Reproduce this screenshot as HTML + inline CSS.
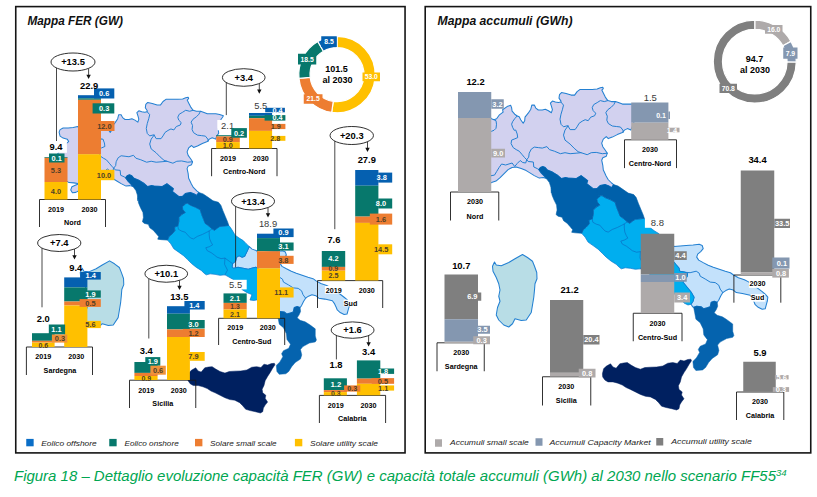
<!DOCTYPE html><html><head><meta charset="utf-8"><style>html,body{margin:0;padding:0;background:#fff}svg{display:block}text{font-family:"Liberation Sans", sans-serif}</style></head><body>
<svg width="817" height="497" viewBox="0 0 817 497">
<rect x="0.00" y="0.00" width="817.00" height="497.00" fill="#fff" />
<g transform="translate(-401.663,11.840) scale(0.97847)"><path d="M489.90,117.20 L491.50,118.70 L494.00,119.70 L496.60,118.70 L499.10,115.20 L503.10,112.20 L502.60,109.70 L507.10,106.60 L510.60,105.30 L511.60,107.60 L512.10,111.20 L514.70,114.20 L517.20,116.00 L519.20,116.70 L520.70,119.70 L523.20,123.20 L524.70,120.70 L525.00,117.20 L528.20,113.20 L530.80,109.20 L531.80,105.10 L534.30,105.10 L535.80,108.10 L538.30,110.00 L542.30,110.00 L545.30,109.20 L548.40,110.70 L551.40,112.70 L552.40,109.70 L551.40,106.10 L550.40,103.10 L552.40,101.10 L555.40,102.10 L558.40,102.60 L560.90,102.10 L561.00,101.10 L559.00,98.10 L559.50,94.60 L561.50,92.60 L566.10,93.60 L571.10,95.10 L574.60,95.10 L577.10,91.60 L580.10,89.40 L586.20,89.40 L592.20,89.40 L597.20,89.10 L600.30,87.80 L602.80,87.20 L603.30,88.60 L601.80,90.10 L603.30,93.10 L605.30,97.10 L607.80,100.60 L611.30,101.60 L615.40,101.60 L618.40,102.60 L622.40,104.10 L626.40,104.10 L631.00,104.10 L635.00,105.00 L638.80,106.20 L637.80,108.00 L636.40,109.80 L635.70,112.50 L634.60,116.00 L633.50,120.00 L634.00,124.00 L632.00,127.00 L630.90,130.10 L627.40,128.60 L624.40,130.10 L622.40,132.60 L617.30,134.60 L612.30,137.10 L608.30,138.60 L606.30,136.60 L603.30,139.10 L601.70,143.10 L602.80,146.70 L605.30,150.20 L607.30,153.20 L606.30,156.20 L602.80,157.70 L601.70,160.20 L602.80,165.30 L603.30,170.00 L604.30,172.10 L606.10,176.00 L608.10,179.50 L611.60,183.00 L613.60,184.60 L611.60,187.60 L609.10,186.10 L605.10,184.60 L600.00,185.60 L597.00,188.60 L597.00,188.60 L593.20,188.70 L586.70,183.60 L587.70,180.60 L581.10,175.60 L576.10,178.60 L568.00,178.10 L565.50,177.60 L561.40,178.60 L557.40,175.10 L552.40,172.10 L547.40,170.10 L545.30,167.50 L542.80,166.50 L540.30,167.50 L538.80,169.60 L541.30,173.10 L544.30,176.10 L546.40,178.60 L543.30,177.60 L539.30,178.10 L534.30,175.60 L530.30,173.10 L526.20,170.60 L521.20,168.60 L516.20,167.00 L512.10,167.50 L508.10,169.60 L504.10,173.60 L500.10,177.60 L496.00,181.10 L491.50,182.60 L488.00,184.50 L484.50,184.80 L482.80,182.00 L484.00,178.80 L488.00,177.00 L491.50,175.60 L491.50,175.60 L486.00,174.80 L481.00,174.50 L477.00,172.00 L473.00,169.00 L469.00,164.00 L467.00,158.00 L470.00,152.00 L469.00,146.00 L472.00,141.00 L476.00,137.00 L479.20,133.60 L480.70,132.60 L479.20,130.10 L475.00,129.00 L471.90,127.00 L470.90,122.90 L471.90,120.40 L475.00,118.70 L480.20,118.70 L485.30,118.20 L489.90,117.20Z" fill="#d2d1ef" stroke="#2380d2" stroke-width="1.05" stroke-linejoin="round"/>
<path d="M494.00,119.70 L496.00,120.70 L496.50,124.20 L496.00,128.30 L494.00,130.30 L491.50,131.30" fill="none" stroke="#2380d2" stroke-width="1.0" stroke-linejoin="round" stroke-linecap="round"/>
<path d="M517.20,116.00 L514.70,118.70 L512.60,121.70 L511.60,124.20 L512.60,127.30 L514.20,130.30 L515.70,130.00 L517.20,134.00 L517.70,137.60 L514.20,139.10 L511.60,140.10 L511.10,143.60 L513.20,147.60 L516.20,149.60 L519.20,151.20 L522.20,154.70 L524.70,157.70 L526.70,159.70" fill="none" stroke="#2380d2" stroke-width="1.0" stroke-linejoin="round" stroke-linecap="round"/>
<path d="M526.70,159.70 L528.70,157.20 L529.20,153.20 L531.30,149.10 L534.30,147.10 L538.30,147.60 L542.30,148.10 L546.90,146.60 L549.40,149.60 L554.40,151.20 L560.40,153.70 L565.00,152.70 L570.10,153.70 L576.10,153.20 L581.10,152.70 L587.20,154.70 L591.20,152.70 L596.20,152.40 L602.30,153.70 L607.30,153.20" fill="none" stroke="#2380d2" stroke-width="1.0" stroke-linejoin="round" stroke-linecap="round"/>
<path d="M491.50,175.60 L494.50,175.10 L496.60,171.60 L499.10,167.50 L501.60,164.00 L505.60,165.00 L512.10,163.00 L514.70,166.50 L517.20,163.50 L520.20,160.50 L522.70,162.50 L525.70,163.00 L526.70,159.70 L528.20,161.50 L533.30,162.00 L533.80,167.00 L537.30,168.60 L538.80,169.60" fill="none" stroke="#2380d2" stroke-width="1.0" stroke-linejoin="round" stroke-linecap="round"/>
<path d="M560.90,102.10 L563.50,105.10 L562.50,109.20 L561.00,114.20 L560.00,119.20 L561.00,124.30 L563.50,126.80 L567.10,125.80 L568.00,126.00" fill="none" stroke="#2380d2" stroke-width="1.0" stroke-linejoin="round" stroke-linecap="round"/>
<path d="M568.00,126.00 L570.10,129.60 L575.10,129.60 L577.10,126.80 L579.10,123.30 L582.20,121.20 L585.20,119.70 L588.20,120.70 L590.70,117.20 L594.70,115.70 L595.70,113.20 L593.20,110.70 L592.20,107.70 L593.70,104.60 L597.20,102.60 L600.30,100.60 L604.30,101.60 L607.80,100.60" fill="none" stroke="#2380d2" stroke-width="1.0" stroke-linejoin="round" stroke-linecap="round"/>
<path d="M568.00,126.00 L565.00,130.10 L563.50,135.10 L565.00,140.10 L570.10,144.10 L574.10,148.20 L578.10,151.70 L581.10,152.70" fill="none" stroke="#2380d2" stroke-width="1.0" stroke-linejoin="round" stroke-linecap="round"/>
<path d="M615.40,101.60 L613.80,104.60 L611.30,107.20 L607.80,109.70 L605.80,112.70 L607.30,116.20 L606.80,120.20 L608.30,123.50 L612.30,126.00 L616.30,126.50 L620.40,127.00 L622.90,130.10 L623.40,132.10" fill="none" stroke="#2380d2" stroke-width="1.0" stroke-linejoin="round" stroke-linecap="round"/>
<path d="M665.20,239.90 L668.20,242.50 L672.90,244.10 L674.00,246.50 L680.10,246.00 L686.10,245.50 L693.10,245.00 L699.20,244.20 L702.20,245.50 L703.20,248.60 L700.70,251.60 L697.70,254.10 L696.70,257.10 L698.70,260.10 L703.20,262.60 L708.20,265.20 L713.30,267.20 L719.30,269.20 L725.30,271.20 L730.40,272.70 L733.90,275.20 L738.40,277.70 L744.40,279.70 L748.10,281.60 L753.00,285.00 L758.20,288.60 L762.20,291.70 L765.20,294.20 L767.80,297.20 L767.30,301.20 L766.20,305.20 L765.20,308.80 L762.20,309.30 L758.20,307.30 L755.20,304.70 L754.20,302.20 L752.50,298.50 L750.20,295.20 L742.40,293.60 L736.30,292.60 L733.30,290.10 L729.30,289.10 L725.80,290.60 L722.80,292.60 L720.70,296.10 L718.70,300.20 L717.20,302.20 L714.20,301.20 L711.20,302.20 L710.20,306.70 L707.20,307.70 L703.60,308.70 L701.10,306.70 L696.60,306.20 L693.60,307.20 L692.60,306.70 L691.10,304.20 L693.10,301.20 L694.10,297.20 L691.10,292.10 L687.00,287.10 L683.10,282.30 L684.10,280.20 L687.10,276.70 L687.60,273.70 L685.10,272.20 L679.60,271.20 L679.10,268.20 L676.00,264.60 L674.00,262.10 L672.00,261.00 L669.30,261.60 L664.20,263.10 L659.10,262.10 L653.80,261.10 L649.20,262.10 L647.70,261.10 L648.20,257.40 L651.30,254.80 L652.30,250.80 L654.90,249.20 L658.00,250.80 L660.60,249.70 L663.10,244.60Z" fill="#c3e1fb" stroke="#2380d2" stroke-width="1.05" stroke-linejoin="round"/>
<path d="M679.60,271.20 L684.10,272.20 L690.10,272.70 L696.20,271.20 L699.20,273.20 L700.20,276.20 L705.20,279.00 L710.20,282.10 L715.20,282.60 L718.70,285.10 L720.20,289.10 L722.80,292.60" fill="none" stroke="#2380d2" stroke-width="1.0" stroke-linejoin="round" stroke-linecap="round"/>
<path d="M599.00,196.10 L602.00,195.60 L605.10,197.60 L610.10,199.60 L615.10,202.20 L616.60,207.20 L618.60,212.20 L620.20,216.20 L623.20,218.30 L627.20,221.80 L629.70,223.30 L632.20,221.30 L635.20,219.30 L640.30,218.80 L644.30,218.30 L645.70,220.00 L647.70,223.00 L650.80,228.20 L654.90,231.20 L659.10,233.80 L662.10,236.90 L665.20,239.90 L663.10,244.60 L660.60,249.70 L658.00,250.80 L654.90,249.20 L652.30,250.80 L651.30,254.80 L648.20,257.40 L647.70,261.10 L649.20,262.10 L653.80,261.10 L659.10,262.10 L664.20,263.10 L669.30,261.60 L672.00,261.00 L674.00,262.10 L676.00,264.60 L679.10,268.20 L679.60,271.20 L685.10,272.20 L687.60,273.70 L687.10,276.70 L684.10,280.20 L683.10,282.30 L687.00,287.10 L691.10,292.10 L694.10,297.20 L693.10,301.20 L691.10,304.20 L688.00,305.00 L684.00,303.00 L680.00,297.00 L675.00,294.00 L670.00,295.00 L666.00,294.50 L668.00,289.00 L663.00,287.00 L658.00,284.00 L654.00,278.00 L648.00,273.00 L640.40,268.80 L635.40,269.30 L630.30,268.30 L625.30,267.80 L621.30,268.80 L619.30,267.30 L616.20,264.30 L611.20,261.20 L606.20,257.20 L602.20,253.20 L598.10,249.20 L593.10,245.60 L588.10,242.10 L585.10,237.10 L581.70,233.30 L583.20,229.70 L586.20,227.20 L589.30,223.70 L588.80,220.20 L592.30,218.70 L593.30,214.10 L593.30,210.10 L596.30,207.10 L599.80,205.10 L597.30,202.10 L596.80,199.10 L599.80,196.50Z" fill="#00aeef" stroke="#0a78cf" stroke-width="0.7" stroke-linejoin="round"/>
<path d="M592.30,218.70 L592.80,222.20 L596.30,224.20 L599.80,225.20 L602.20,228.00 L605.20,231.10 L608.20,232.10 L612.20,229.50 L617.30,227.50 L621.30,225.50 L624.30,224.00 L627.20,221.80" fill="none" stroke="#0a6fc4" stroke-width="0.7" stroke-linejoin="round" stroke-linecap="round"/>
<path d="M624.30,224.00 L624.30,228.00 L624.80,232.10 L626.30,235.60 L627.80,238.10 L624.30,240.10 L620.80,241.10 L622.30,244.10 L626.30,246.10 L629.80,248.70 L632.30,250.70 L636.40,252.20 L640.40,251.70 L645.00,255.00 L648.20,257.40" fill="none" stroke="#0a6fc4" stroke-width="0.7" stroke-linejoin="round" stroke-linecap="round"/>
<path d="M640.40,251.70 L640.00,258.00 L643.00,264.00 L640.40,268.80" fill="none" stroke="#0a6fc4" stroke-width="0.7" stroke-linejoin="round" stroke-linecap="round"/>
<path d="M538.80,169.60 L540.30,167.50 L542.80,166.50 L545.30,167.50 L547.40,170.10 L552.40,172.10 L557.40,175.10 L561.40,178.60 L565.50,177.60 L568.00,178.10 L576.10,178.60 L581.10,175.60 L587.70,180.60 L586.70,183.60 L593.20,188.70 L597.00,188.60 L599.00,196.10 L599.80,196.50 L596.80,199.10 L597.30,202.10 L599.80,205.10 L596.30,207.10 L593.30,210.10 L593.30,214.10 L592.30,218.70 L588.80,220.20 L589.30,223.70 L586.20,227.20 L583.20,229.70 L581.70,233.30 L575.20,232.80 L571.70,232.30 L572.70,229.70 L570.20,226.70 L567.10,223.20 L563.60,220.70 L562.10,217.20 L558.10,216.20 L556.10,214.60 L557.10,210.10 L556.60,205.10 L554.10,200.10 L552.00,195.00 L551.50,190.00 L551.40,193.20 L550.90,187.20 L549.40,182.60 L546.40,178.60 L544.30,176.10 L541.30,173.10Z" fill="#0060aa" stroke="#0060aa" stroke-width="0.6" stroke-linejoin="round"/>
<path d="M597.00,188.60 L600.00,185.60 L605.10,184.60 L609.10,186.10 L611.60,187.60 L613.60,184.60 L618.10,186.10 L623.20,189.60 L628.20,193.10 L633.70,194.60 L636.20,197.60 L638.30,203.20 L640.80,209.20 L643.30,215.20 L644.30,218.30 L640.30,218.80 L635.20,219.30 L632.20,221.30 L629.70,223.30 L627.20,221.80 L623.20,218.30 L620.20,216.20 L618.60,212.20 L616.60,207.20 L615.10,202.20 L610.10,199.60 L605.10,197.60 L602.00,195.60 L599.00,196.10 L597.00,193.00Z" fill="#0060aa" stroke="#0060aa" stroke-width="0.6" stroke-linejoin="round"/>
<path d="M693.60,307.20 L696.60,306.20 L701.10,306.70 L703.60,308.70 L707.20,307.70 L710.20,306.70 L711.20,302.20 L714.20,301.20 L717.20,302.20 L717.70,306.20 L716.20,309.70 L714.20,312.70 L717.20,315.30 L722.30,316.80 L726.30,319.30 L727.90,320.40 L732.70,324.00 L732.70,331.30 L733.90,335.50 L732.70,337.30 L726.70,338.50 L720.10,342.10 L717.60,345.10 L718.90,350.60 L717.60,354.80 L712.20,358.40 L708.60,362.60 L705.60,367.50 L702.60,369.90 L695.90,370.50 L693.50,367.50 L692.90,361.40 L696.50,357.80 L699.60,352.40 L698.30,349.40 L700.20,346.30 L705.60,343.90 L707.40,339.70 L703.80,334.90 L703.20,328.90 L700.20,322.80 L695.90,319.20 L694.60,312.20Z" fill="#0563ae" stroke="#0563ae" stroke-width="0.5" stroke-linejoin="round"/>
<path d="M602.40,373.80 L603.60,368.80 L606.10,366.30 L610.50,363.80 L613.00,367.00 L616.10,368.20 L619.80,363.80 L623.60,363.00 L627.30,362.60 L631.00,365.10 L635.40,367.60 L640.40,369.20 L644.80,367.60 L650.40,367.20 L656.60,367.00 L662.80,366.00 L667.80,363.20 L672.80,362.60 L677.20,363.50 L680.30,360.10 L684.00,361.00 L687.80,359.50 L690.90,359.20 L691.50,360.70 L689.00,364.50 L686.50,368.80 L684.00,372.60 L681.50,376.90 L680.30,381.90 L678.40,385.70 L679.00,389.40 L682.20,391.90 L681.50,395.00 L684.00,398.80 L681.50,401.90 L679.70,405.00 L679.00,408.70 L676.60,410.00 L671.60,408.70 L666.00,407.50 L661.60,406.20 L658.50,402.50 L655.40,399.40 L650.40,396.90 L645.40,396.30 L640.40,394.40 L635.40,391.90 L630.40,389.40 L626.10,387.50 L622.30,385.00 L617.90,383.20 L613.00,381.90 L608.00,381.90 L604.90,380.10 L602.70,376.90Z" fill="#002060" stroke="#002060" stroke-width="0.5" stroke-linejoin="round"/>
<path d="M494.50,262.00 L496.25,265.00 L501.25,265.75 L508.75,262.50 L515.00,258.75 L522.50,254.50 L527.50,257.50 L532.50,261.25 L534.50,266.25 L536.75,272.50 L537.00,278.75 L535.00,283.75 L534.50,290.00 L533.75,297.50 L532.50,305.00 L531.25,312.50 L526.25,320.00 L521.25,320.50 L515.00,318.75 L512.50,321.30 L508.75,321.30 L503.75,321.30 L498.75,320.00 L496.25,315.00 L497.50,307.50 L500.00,301.25 L498.75,296.25 L500.00,290.00 L498.75,283.75 L496.25,277.50 L493.00,271.25 L492.50,266.25Z" fill="#b8dde6" stroke="#2380d2" stroke-width="1.05" stroke-linejoin="round"/></g>
<g><path d="M489.90,117.20 L491.50,118.70 L494.00,119.70 L496.60,118.70 L499.10,115.20 L503.10,112.20 L502.60,109.70 L507.10,106.60 L510.60,105.30 L511.60,107.60 L512.10,111.20 L514.70,114.20 L517.20,116.00 L519.20,116.70 L520.70,119.70 L523.20,123.20 L524.70,120.70 L525.00,117.20 L528.20,113.20 L530.80,109.20 L531.80,105.10 L534.30,105.10 L535.80,108.10 L538.30,110.00 L542.30,110.00 L545.30,109.20 L548.40,110.70 L551.40,112.70 L552.40,109.70 L551.40,106.10 L550.40,103.10 L552.40,101.10 L555.40,102.10 L558.40,102.60 L560.90,102.10 L561.00,101.10 L559.00,98.10 L559.50,94.60 L561.50,92.60 L566.10,93.60 L571.10,95.10 L574.60,95.10 L577.10,91.60 L580.10,89.40 L586.20,89.40 L592.20,89.40 L597.20,89.10 L600.30,87.80 L602.80,87.20 L603.30,88.60 L601.80,90.10 L603.30,93.10 L605.30,97.10 L607.80,100.60 L611.30,101.60 L615.40,101.60 L618.40,102.60 L622.40,104.10 L626.40,104.10 L631.00,104.10 L635.00,105.00 L638.80,106.20 L637.80,108.00 L636.40,109.80 L635.70,112.50 L634.60,116.00 L633.50,120.00 L634.00,124.00 L632.00,127.00 L630.90,130.10 L627.40,128.60 L624.40,130.10 L622.40,132.60 L617.30,134.60 L612.30,137.10 L608.30,138.60 L606.30,136.60 L603.30,139.10 L601.70,143.10 L602.80,146.70 L605.30,150.20 L607.30,153.20 L606.30,156.20 L602.80,157.70 L601.70,160.20 L602.80,165.30 L603.30,170.00 L604.30,172.10 L606.10,176.00 L608.10,179.50 L611.60,183.00 L613.60,184.60 L611.60,187.60 L609.10,186.10 L605.10,184.60 L600.00,185.60 L597.00,188.60 L597.00,188.60 L593.20,188.70 L586.70,183.60 L587.70,180.60 L581.10,175.60 L576.10,178.60 L568.00,178.10 L565.50,177.60 L561.40,178.60 L557.40,175.10 L552.40,172.10 L547.40,170.10 L545.30,167.50 L542.80,166.50 L540.30,167.50 L538.80,169.60 L541.30,173.10 L544.30,176.10 L546.40,178.60 L543.30,177.60 L539.30,178.10 L534.30,175.60 L530.30,173.10 L526.20,170.60 L521.20,168.60 L516.20,167.00 L512.10,167.50 L508.10,169.60 L504.10,173.60 L500.10,177.60 L496.00,181.10 L491.50,182.60 L488.00,184.50 L484.50,184.80 L482.80,182.00 L484.00,178.80 L488.00,177.00 L491.50,175.60 L491.50,175.60 L486.00,174.80 L481.00,174.50 L477.00,172.00 L473.00,169.00 L469.00,164.00 L467.00,158.00 L470.00,152.00 L469.00,146.00 L472.00,141.00 L476.00,137.00 L479.20,133.60 L480.70,132.60 L479.20,130.10 L475.00,129.00 L471.90,127.00 L470.90,122.90 L471.90,120.40 L475.00,118.70 L480.20,118.70 L485.30,118.20 L489.90,117.20Z" fill="#d2d1ef" stroke="#2380d2" stroke-width="1.05" stroke-linejoin="round"/>
<path d="M494.00,119.70 L496.00,120.70 L496.50,124.20 L496.00,128.30 L494.00,130.30 L491.50,131.30" fill="none" stroke="#2380d2" stroke-width="1.0" stroke-linejoin="round" stroke-linecap="round"/>
<path d="M517.20,116.00 L514.70,118.70 L512.60,121.70 L511.60,124.20 L512.60,127.30 L514.20,130.30 L515.70,130.00 L517.20,134.00 L517.70,137.60 L514.20,139.10 L511.60,140.10 L511.10,143.60 L513.20,147.60 L516.20,149.60 L519.20,151.20 L522.20,154.70 L524.70,157.70 L526.70,159.70" fill="none" stroke="#2380d2" stroke-width="1.0" stroke-linejoin="round" stroke-linecap="round"/>
<path d="M526.70,159.70 L528.70,157.20 L529.20,153.20 L531.30,149.10 L534.30,147.10 L538.30,147.60 L542.30,148.10 L546.90,146.60 L549.40,149.60 L554.40,151.20 L560.40,153.70 L565.00,152.70 L570.10,153.70 L576.10,153.20 L581.10,152.70 L587.20,154.70 L591.20,152.70 L596.20,152.40 L602.30,153.70 L607.30,153.20" fill="none" stroke="#2380d2" stroke-width="1.0" stroke-linejoin="round" stroke-linecap="round"/>
<path d="M491.50,175.60 L494.50,175.10 L496.60,171.60 L499.10,167.50 L501.60,164.00 L505.60,165.00 L512.10,163.00 L514.70,166.50 L517.20,163.50 L520.20,160.50 L522.70,162.50 L525.70,163.00 L526.70,159.70 L528.20,161.50 L533.30,162.00 L533.80,167.00 L537.30,168.60 L538.80,169.60" fill="none" stroke="#2380d2" stroke-width="1.0" stroke-linejoin="round" stroke-linecap="round"/>
<path d="M560.90,102.10 L563.50,105.10 L562.50,109.20 L561.00,114.20 L560.00,119.20 L561.00,124.30 L563.50,126.80 L567.10,125.80 L568.00,126.00" fill="none" stroke="#2380d2" stroke-width="1.0" stroke-linejoin="round" stroke-linecap="round"/>
<path d="M568.00,126.00 L570.10,129.60 L575.10,129.60 L577.10,126.80 L579.10,123.30 L582.20,121.20 L585.20,119.70 L588.20,120.70 L590.70,117.20 L594.70,115.70 L595.70,113.20 L593.20,110.70 L592.20,107.70 L593.70,104.60 L597.20,102.60 L600.30,100.60 L604.30,101.60 L607.80,100.60" fill="none" stroke="#2380d2" stroke-width="1.0" stroke-linejoin="round" stroke-linecap="round"/>
<path d="M568.00,126.00 L565.00,130.10 L563.50,135.10 L565.00,140.10 L570.10,144.10 L574.10,148.20 L578.10,151.70 L581.10,152.70" fill="none" stroke="#2380d2" stroke-width="1.0" stroke-linejoin="round" stroke-linecap="round"/>
<path d="M615.40,101.60 L613.80,104.60 L611.30,107.20 L607.80,109.70 L605.80,112.70 L607.30,116.20 L606.80,120.20 L608.30,123.50 L612.30,126.00 L616.30,126.50 L620.40,127.00 L622.90,130.10 L623.40,132.10" fill="none" stroke="#2380d2" stroke-width="1.0" stroke-linejoin="round" stroke-linecap="round"/>
<path d="M665.20,239.90 L668.20,242.50 L672.90,244.10 L674.00,246.50 L680.10,246.00 L686.10,245.50 L693.10,245.00 L699.20,244.20 L702.20,245.50 L703.20,248.60 L700.70,251.60 L697.70,254.10 L696.70,257.10 L698.70,260.10 L703.20,262.60 L708.20,265.20 L713.30,267.20 L719.30,269.20 L725.30,271.20 L730.40,272.70 L733.90,275.20 L738.40,277.70 L744.40,279.70 L748.10,281.60 L753.00,285.00 L758.20,288.60 L762.20,291.70 L765.20,294.20 L767.80,297.20 L767.30,301.20 L766.20,305.20 L765.20,308.80 L762.20,309.30 L758.20,307.30 L755.20,304.70 L754.20,302.20 L752.50,298.50 L750.20,295.20 L742.40,293.60 L736.30,292.60 L733.30,290.10 L729.30,289.10 L725.80,290.60 L722.80,292.60 L720.70,296.10 L718.70,300.20 L717.20,302.20 L714.20,301.20 L711.20,302.20 L710.20,306.70 L707.20,307.70 L703.60,308.70 L701.10,306.70 L696.60,306.20 L693.60,307.20 L692.60,306.70 L691.10,304.20 L693.10,301.20 L694.10,297.20 L691.10,292.10 L687.00,287.10 L683.10,282.30 L684.10,280.20 L687.10,276.70 L687.60,273.70 L685.10,272.20 L679.60,271.20 L679.10,268.20 L676.00,264.60 L674.00,262.10 L672.00,261.00 L669.30,261.60 L664.20,263.10 L659.10,262.10 L653.80,261.10 L649.20,262.10 L647.70,261.10 L648.20,257.40 L651.30,254.80 L652.30,250.80 L654.90,249.20 L658.00,250.80 L660.60,249.70 L663.10,244.60Z" fill="#c3e1fb" stroke="#2380d2" stroke-width="1.05" stroke-linejoin="round"/>
<path d="M679.60,271.20 L684.10,272.20 L690.10,272.70 L696.20,271.20 L699.20,273.20 L700.20,276.20 L705.20,279.00 L710.20,282.10 L715.20,282.60 L718.70,285.10 L720.20,289.10 L722.80,292.60" fill="none" stroke="#2380d2" stroke-width="1.0" stroke-linejoin="round" stroke-linecap="round"/>
<path d="M599.00,196.10 L602.00,195.60 L605.10,197.60 L610.10,199.60 L615.10,202.20 L616.60,207.20 L618.60,212.20 L620.20,216.20 L623.20,218.30 L627.20,221.80 L629.70,223.30 L632.20,221.30 L635.20,219.30 L640.30,218.80 L644.30,218.30 L645.70,220.00 L647.70,223.00 L650.80,228.20 L654.90,231.20 L659.10,233.80 L662.10,236.90 L665.20,239.90 L663.10,244.60 L660.60,249.70 L658.00,250.80 L654.90,249.20 L652.30,250.80 L651.30,254.80 L648.20,257.40 L647.70,261.10 L649.20,262.10 L653.80,261.10 L659.10,262.10 L664.20,263.10 L669.30,261.60 L672.00,261.00 L674.00,262.10 L676.00,264.60 L679.10,268.20 L679.60,271.20 L685.10,272.20 L687.60,273.70 L687.10,276.70 L684.10,280.20 L683.10,282.30 L687.00,287.10 L691.10,292.10 L694.10,297.20 L693.10,301.20 L691.10,304.20 L688.00,305.00 L684.00,303.00 L680.00,297.00 L675.00,294.00 L670.00,295.00 L666.00,294.50 L668.00,289.00 L663.00,287.00 L658.00,284.00 L654.00,278.00 L648.00,273.00 L640.40,268.80 L635.40,269.30 L630.30,268.30 L625.30,267.80 L621.30,268.80 L619.30,267.30 L616.20,264.30 L611.20,261.20 L606.20,257.20 L602.20,253.20 L598.10,249.20 L593.10,245.60 L588.10,242.10 L585.10,237.10 L581.70,233.30 L583.20,229.70 L586.20,227.20 L589.30,223.70 L588.80,220.20 L592.30,218.70 L593.30,214.10 L593.30,210.10 L596.30,207.10 L599.80,205.10 L597.30,202.10 L596.80,199.10 L599.80,196.50Z" fill="#00aeef" stroke="#0a78cf" stroke-width="0.7" stroke-linejoin="round"/>
<path d="M592.30,218.70 L592.80,222.20 L596.30,224.20 L599.80,225.20 L602.20,228.00 L605.20,231.10 L608.20,232.10 L612.20,229.50 L617.30,227.50 L621.30,225.50 L624.30,224.00 L627.20,221.80" fill="none" stroke="#0a6fc4" stroke-width="0.7" stroke-linejoin="round" stroke-linecap="round"/>
<path d="M624.30,224.00 L624.30,228.00 L624.80,232.10 L626.30,235.60 L627.80,238.10 L624.30,240.10 L620.80,241.10 L622.30,244.10 L626.30,246.10 L629.80,248.70 L632.30,250.70 L636.40,252.20 L640.40,251.70 L645.00,255.00 L648.20,257.40" fill="none" stroke="#0a6fc4" stroke-width="0.7" stroke-linejoin="round" stroke-linecap="round"/>
<path d="M640.40,251.70 L640.00,258.00 L643.00,264.00 L640.40,268.80" fill="none" stroke="#0a6fc4" stroke-width="0.7" stroke-linejoin="round" stroke-linecap="round"/>
<path d="M538.80,169.60 L540.30,167.50 L542.80,166.50 L545.30,167.50 L547.40,170.10 L552.40,172.10 L557.40,175.10 L561.40,178.60 L565.50,177.60 L568.00,178.10 L576.10,178.60 L581.10,175.60 L587.70,180.60 L586.70,183.60 L593.20,188.70 L597.00,188.60 L599.00,196.10 L599.80,196.50 L596.80,199.10 L597.30,202.10 L599.80,205.10 L596.30,207.10 L593.30,210.10 L593.30,214.10 L592.30,218.70 L588.80,220.20 L589.30,223.70 L586.20,227.20 L583.20,229.70 L581.70,233.30 L575.20,232.80 L571.70,232.30 L572.70,229.70 L570.20,226.70 L567.10,223.20 L563.60,220.70 L562.10,217.20 L558.10,216.20 L556.10,214.60 L557.10,210.10 L556.60,205.10 L554.10,200.10 L552.00,195.00 L551.50,190.00 L551.40,193.20 L550.90,187.20 L549.40,182.60 L546.40,178.60 L544.30,176.10 L541.30,173.10Z" fill="#0060aa" stroke="#0060aa" stroke-width="0.6" stroke-linejoin="round"/>
<path d="M597.00,188.60 L600.00,185.60 L605.10,184.60 L609.10,186.10 L611.60,187.60 L613.60,184.60 L618.10,186.10 L623.20,189.60 L628.20,193.10 L633.70,194.60 L636.20,197.60 L638.30,203.20 L640.80,209.20 L643.30,215.20 L644.30,218.30 L640.30,218.80 L635.20,219.30 L632.20,221.30 L629.70,223.30 L627.20,221.80 L623.20,218.30 L620.20,216.20 L618.60,212.20 L616.60,207.20 L615.10,202.20 L610.10,199.60 L605.10,197.60 L602.00,195.60 L599.00,196.10 L597.00,193.00Z" fill="#0060aa" stroke="#0060aa" stroke-width="0.6" stroke-linejoin="round"/>
<path d="M693.60,307.20 L696.60,306.20 L701.10,306.70 L703.60,308.70 L707.20,307.70 L710.20,306.70 L711.20,302.20 L714.20,301.20 L717.20,302.20 L717.70,306.20 L716.20,309.70 L714.20,312.70 L717.20,315.30 L722.30,316.80 L726.30,319.30 L727.90,320.40 L732.70,324.00 L732.70,331.30 L733.90,335.50 L732.70,337.30 L726.70,338.50 L720.10,342.10 L717.60,345.10 L718.90,350.60 L717.60,354.80 L712.20,358.40 L708.60,362.60 L705.60,367.50 L702.60,369.90 L695.90,370.50 L693.50,367.50 L692.90,361.40 L696.50,357.80 L699.60,352.40 L698.30,349.40 L700.20,346.30 L705.60,343.90 L707.40,339.70 L703.80,334.90 L703.20,328.90 L700.20,322.80 L695.90,319.20 L694.60,312.20Z" fill="#0563ae" stroke="#0563ae" stroke-width="0.5" stroke-linejoin="round"/>
<path d="M602.40,373.80 L603.60,368.80 L606.10,366.30 L610.50,363.80 L613.00,367.00 L616.10,368.20 L619.80,363.80 L623.60,363.00 L627.30,362.60 L631.00,365.10 L635.40,367.60 L640.40,369.20 L644.80,367.60 L650.40,367.20 L656.60,367.00 L662.80,366.00 L667.80,363.20 L672.80,362.60 L677.20,363.50 L680.30,360.10 L684.00,361.00 L687.80,359.50 L690.90,359.20 L691.50,360.70 L689.00,364.50 L686.50,368.80 L684.00,372.60 L681.50,376.90 L680.30,381.90 L678.40,385.70 L679.00,389.40 L682.20,391.90 L681.50,395.00 L684.00,398.80 L681.50,401.90 L679.70,405.00 L679.00,408.70 L676.60,410.00 L671.60,408.70 L666.00,407.50 L661.60,406.20 L658.50,402.50 L655.40,399.40 L650.40,396.90 L645.40,396.30 L640.40,394.40 L635.40,391.90 L630.40,389.40 L626.10,387.50 L622.30,385.00 L617.90,383.20 L613.00,381.90 L608.00,381.90 L604.90,380.10 L602.70,376.90Z" fill="#002060" stroke="#002060" stroke-width="0.5" stroke-linejoin="round"/>
<path d="M494.50,262.00 L496.25,265.00 L501.25,265.75 L508.75,262.50 L515.00,258.75 L522.50,254.50 L527.50,257.50 L532.50,261.25 L534.50,266.25 L536.75,272.50 L537.00,278.75 L535.00,283.75 L534.50,290.00 L533.75,297.50 L532.50,305.00 L531.25,312.50 L526.25,320.00 L521.25,320.50 L515.00,318.75 L512.50,323.75 L508.75,327.00 L503.75,325.00 L498.75,320.00 L496.25,315.00 L497.50,307.50 L500.00,301.25 L498.75,296.25 L500.00,290.00 L498.75,283.75 L496.25,277.50 L493.00,271.25 L492.50,266.25Z" fill="#b8dde6" stroke="#2380d2" stroke-width="1.05" stroke-linejoin="round"/></g>
<path d="M39.50,227.00 L39.50,199.50 L105.50,199.50 L105.50,227.00" fill="none" stroke="#1a1a1a" stroke-width="0.9"/>
<path d="M211.60,176.20 L211.60,148.50 L277.00,148.50 L277.00,176.20" fill="none" stroke="#1a1a1a" stroke-width="0.9"/>
<path d="M317.50,308.00 L317.50,280.60 L382.70,280.60 L382.70,308.00" fill="none" stroke="#1a1a1a" stroke-width="0.9"/>
<path d="M218.60,345.00 L218.60,318.30 L284.70,318.30 L284.70,345.00" fill="none" stroke="#1a1a1a" stroke-width="0.9"/>
<path d="M26.40,375.00 L26.40,347.00 L92.50,347.00 L92.50,375.00" fill="none" stroke="#1a1a1a" stroke-width="0.9"/>
<path d="M129.50,408.00 L129.50,380.20 L195.75,380.20 L195.75,408.00" fill="none" stroke="#1a1a1a" stroke-width="0.9"/>
<path d="M319.40,423.00 L319.40,395.40 L385.60,395.40 L385.60,423.00" fill="none" stroke="#1a1a1a" stroke-width="0.9"/>
<path d="M450.50,220.50 L450.50,192.00 L498.75,192.00 L498.75,220.50" fill="none" stroke="#1a1a1a" stroke-width="0.9"/>
<path d="M624.50,168.10 L624.50,139.80 L676.50,139.80 L676.50,168.10" fill="none" stroke="#1a1a1a" stroke-width="0.9"/>
<path d="M633.25,341.25 L633.25,313.25 L682.00,313.25 L682.00,341.25" fill="none" stroke="#1a1a1a" stroke-width="0.9"/>
<path d="M733.90,302.70 L733.90,275.00 L780.80,275.00 L780.80,302.70" fill="none" stroke="#1a1a1a" stroke-width="0.9"/>
<path d="M437.00,371.25 L437.00,342.80 L484.25,342.80 L484.25,371.25" fill="none" stroke="#1a1a1a" stroke-width="0.9"/>
<path d="M542.50,405.50 L542.50,376.75 L590.75,376.75 L590.75,405.50" fill="none" stroke="#1a1a1a" stroke-width="0.9"/>
<path d="M736.50,420.00 L736.50,392.00 L783.80,392.00 L783.80,420.00" fill="none" stroke="#1a1a1a" stroke-width="0.9"/>
<text x="27.50" y="25.00" font-size="12.2" font-weight="bold" font-style="italic" text-anchor="start" fill="#111" textLength="95.5" lengthAdjust="spacingAndGlyphs">Mappa FER (GW)</text>
<line x1="56.5" y1="67.95" x2="56.5" y2="141" stroke="#1a1a1a" stroke-width="0.8"/>
<line x1="88.6" y1="68.35" x2="88.6" y2="76" stroke="#1a1a1a" stroke-width="0.8"/>
<path d="M86.39999999999999,74.8 L90.8,74.8 L88.6,79Z" fill="#111"/>
<ellipse cx="73" cy="62" rx="22" ry="9" fill="#fff" stroke="#1a1a1a" stroke-width="0.9"/>
<text x="73.00" y="65.37" font-size="9.4" font-weight="bold" font-style="normal" text-anchor="middle" fill="#000" >+13.5</text>
<rect x="47.00" y="141.50" width="19.90" height="11.30" fill="#fff" />
<text x="56.00" y="149.50" font-size="9.4" font-weight="bold" font-style="normal" text-anchor="middle" fill="#000" >9.4</text>
<rect x="44.50" y="157.00" width="23.00" height="0.80" fill="#07786c" />
<rect x="44.50" y="157.80" width="23.00" height="24.20" fill="#ed7d31" />
<rect x="44.50" y="182.00" width="23.00" height="17.50" fill="#ffc000" />
<rect x="78.00" y="95.20" width="23.00" height="3.10" fill="#0560b0" />
<rect x="78.00" y="98.30" width="23.00" height="1.50" fill="#07786c" />
<rect x="78.00" y="99.80" width="23.00" height="54.40" fill="#ed7d31" />
<rect x="78.00" y="154.20" width="23.00" height="45.30" fill="#ffc000" />
<rect x="94.00" y="88.40" width="20.30" height="10.10" fill="#0560b0" />
<text x="104.15" y="96.10" font-size="7.4" font-weight="bold" font-style="normal" text-anchor="middle" fill="#fff" >0.6</text>
<text x="89.20" y="88.60" font-size="9.4" font-weight="bold" font-style="normal" text-anchor="middle" fill="#000" >22.9</text>
<rect x="92.60" y="103.30" width="21.70" height="10.20" fill="#07786c" />
<text x="104.15" y="111.05" font-size="7.4" font-weight="bold" font-style="normal" text-anchor="middle" fill="#fff" >0.3</text>
<rect x="101.00" y="121.00" width="13.50" height="10.00" fill="#ed7d31" />
<text x="104.35" y="128.65" font-size="7.4" font-weight="bold" font-style="normal" text-anchor="middle" fill="#4f4028" >12.0</text>
<rect x="100.90" y="169.80" width="13.50" height="10.40" fill="#ffc000" />
<text x="104.05" y="177.65" font-size="7.4" font-weight="bold" font-style="normal" text-anchor="middle" fill="#4f4028" >10.0</text>
<rect x="49.00" y="153.50" width="15.50" height="9.00" fill="#07786c" />
<text x="56.75" y="160.65" font-size="7.4" font-weight="bold" font-style="normal" text-anchor="middle" fill="#fff" >0.1</text>
<text x="56.00" y="172.65" font-size="7.4" font-weight="bold" font-style="normal" text-anchor="middle" fill="#4f4028" >5.3</text>
<text x="56.00" y="194.15" font-size="7.4" font-weight="bold" font-style="normal" text-anchor="middle" fill="#4f4028" >4.0</text>
<text x="56.00" y="211.58" font-size="7.2" font-weight="bold" font-style="normal" text-anchor="middle" fill="#000" >2019</text>
<text x="89.50" y="211.58" font-size="7.2" font-weight="bold" font-style="normal" text-anchor="middle" fill="#000" >2030</text>
<text x="72.50" y="225.08" font-size="7.2" font-weight="bold" font-style="normal" text-anchor="middle" fill="#000" >Nord</text>
<line x1="226.3" y1="82.55" x2="226.3" y2="115.1" stroke="#1a1a1a" stroke-width="0.8"/>
<line x1="259.3" y1="83.51" x2="259.3" y2="90.8" stroke="#1a1a1a" stroke-width="0.8"/>
<path d="M257.1,89.6 L261.5,89.6 L259.3,93.8Z" fill="#111"/>
<ellipse cx="243.75" cy="77.5" rx="21.3" ry="8.8" fill="#fff" stroke="#1a1a1a" stroke-width="0.9"/>
<text x="243.75" y="80.87" font-size="9.4" font-weight="bold" font-style="normal" text-anchor="middle" fill="#000" >+3.4</text>
<rect x="217.30" y="120.00" width="16.20" height="10.30" fill="#fff" />
<text x="227.60" y="128.70" font-size="9.4" font-weight="normal" font-style="normal" text-anchor="middle" fill="#3a3a3a" >2.1</text>
<text x="260.70" y="108.80" font-size="9.4" font-weight="normal" font-style="normal" text-anchor="middle" fill="#3a3a3a" >5.5</text>
<rect x="216.20" y="135.20" width="23.60" height="1.20" fill="#07786c" />
<rect x="216.20" y="136.40" width="23.60" height="5.70" fill="#ed7d31" />
<rect x="216.20" y="142.10" width="23.60" height="6.30" fill="#ffc000" />
<rect x="249.00" y="113.00" width="23.10" height="2.80" fill="#0560b0" />
<rect x="249.00" y="115.80" width="23.10" height="2.40" fill="#07786c" />
<rect x="249.00" y="118.20" width="23.10" height="12.70" fill="#ed7d31" />
<rect x="249.00" y="130.90" width="23.10" height="17.50" fill="#ffc000" />
<rect x="265.20" y="107.80" width="19.70" height="4.50" fill="#0560b0" />
<text x="277.55" y="112.63" font-size="7.2" font-weight="bold" font-style="normal" text-anchor="middle" fill="#fff" >0.4</text>
<rect x="264.60" y="115.10" width="20.80" height="5.50" fill="#07786c" />
<text x="277.60" y="120.43" font-size="7.2" font-weight="bold" font-style="normal" text-anchor="middle" fill="#fff" >0.4</text>
<rect x="272.10" y="123.90" width="13.30" height="5.20" fill="#ed7d31" />
<text x="275.75" y="129.08" font-size="7.2" font-weight="bold" font-style="normal" text-anchor="middle" fill="#4f4028" >1.9</text>
<rect x="272.10" y="135.90" width="13.30" height="4.90" fill="#ffc000" />
<text x="275.15" y="140.93" font-size="7.2" font-weight="bold" font-style="normal" text-anchor="middle" fill="#4f4028" >2.8</text>
<rect x="231.30" y="128.10" width="15.60" height="9.60" fill="#07786c" />
<text x="239.10" y="135.55" font-size="7.4" font-weight="bold" font-style="normal" text-anchor="middle" fill="#fff" >0.2</text>
<text x="227.70" y="141.78" font-size="7.2" font-weight="bold" font-style="normal" text-anchor="middle" fill="#4f4028" >0.9</text>
<text x="227.70" y="148.08" font-size="7.2" font-weight="bold" font-style="normal" text-anchor="middle" fill="#4f4028" >1.0</text>
<text x="228.00" y="160.58" font-size="7.2" font-weight="bold" font-style="normal" text-anchor="middle" fill="#000" >2019</text>
<text x="260.70" y="160.58" font-size="7.2" font-weight="bold" font-style="normal" text-anchor="middle" fill="#000" >2030</text>
<text x="244.20" y="173.88" font-size="7.2" font-weight="bold" font-style="normal" text-anchor="middle" fill="#000" >Centro-Nord</text>
<line x1="334.8" y1="141.12" x2="334.8" y2="229.2" stroke="#1a1a1a" stroke-width="0.8"/>
<line x1="367.5" y1="141.69" x2="367.5" y2="149" stroke="#1a1a1a" stroke-width="0.8"/>
<path d="M365.3,147.8 L369.7,147.8 L367.5,152Z" fill="#111"/>
<ellipse cx="351.75" cy="135.5" rx="21.7" ry="9" fill="#fff" stroke="#1a1a1a" stroke-width="0.9"/>
<text x="351.75" y="138.87" font-size="9.4" font-weight="bold" font-style="normal" text-anchor="middle" fill="#000" >+20.3</text>
<text x="366.75" y="163.00" font-size="9.4" font-weight="bold" font-style="normal" text-anchor="middle" fill="#000" >27.9</text>
<text x="333.90" y="242.60" font-size="9.4" font-weight="bold" font-style="normal" text-anchor="middle" fill="#000" >7.6</text>
<rect x="321.80" y="251.00" width="23.40" height="15.90" fill="#07786c" />
<rect x="321.80" y="266.90" width="23.40" height="3.80" fill="#ed7d31" />
<rect x="321.80" y="270.70" width="23.40" height="9.80" fill="#ffc000" />
<rect x="355.20" y="170.00" width="23.20" height="15.70" fill="#0560b0" />
<rect x="355.20" y="185.70" width="23.20" height="30.90" fill="#07786c" />
<rect x="355.20" y="216.60" width="23.20" height="6.30" fill="#ed7d31" />
<rect x="355.20" y="222.90" width="23.20" height="57.60" fill="#ffc000" />
<rect x="378.20" y="172.60" width="14.00" height="10.00" fill="#0560b0" />
<text x="381.70" y="180.25" font-size="7.4" font-weight="bold" font-style="normal" text-anchor="middle" fill="#fff" >3.8</text>
<rect x="378.20" y="198.50" width="14.00" height="10.00" fill="#07786c" />
<text x="381.00" y="206.15" font-size="7.4" font-weight="bold" font-style="normal" text-anchor="middle" fill="#fff" >8.0</text>
<rect x="369.80" y="213.60" width="22.40" height="11.00" fill="#ed7d31" />
<text x="381.00" y="221.75" font-size="7.4" font-weight="bold" font-style="normal" text-anchor="middle" fill="#4f4028" >1.6</text>
<rect x="378.20" y="244.30" width="14.00" height="10.00" fill="#ffc000" />
<text x="381.20" y="251.95" font-size="7.4" font-weight="bold" font-style="normal" text-anchor="middle" fill="#4f4028" >14.5</text>
<text x="333.40" y="261.25" font-size="7.4" font-weight="bold" font-style="normal" text-anchor="middle" fill="#fff" >4.2</text>
<text x="333.40" y="271.41" font-size="7" font-weight="bold" font-style="normal" text-anchor="middle" fill="#4f4028" >0.9</text>
<text x="333.40" y="278.28" font-size="7.2" font-weight="bold" font-style="normal" text-anchor="middle" fill="#4f4028" >2.5</text>
<rect x="324.90" y="286.00" width="17.60" height="7.70" fill="#fff" />
<rect x="343.60" y="299.70" width="13.80" height="6.60" fill="#fff" />
<text x="333.75" y="292.58" font-size="7.2" font-weight="bold" font-style="normal" text-anchor="middle" fill="#000" >2019</text>
<text x="366.75" y="292.58" font-size="7.2" font-weight="bold" font-style="normal" text-anchor="middle" fill="#000" >2030</text>
<text x="350.50" y="305.58" font-size="7.2" font-weight="bold" font-style="normal" text-anchor="middle" fill="#000" >Sud</text>
<line x1="235.6" y1="206.42" x2="235.6" y2="267.3" stroke="#1a1a1a" stroke-width="0.8"/>
<line x1="268" y1="207.55" x2="268" y2="214.5" stroke="#1a1a1a" stroke-width="0.8"/>
<path d="M265.8,213.3 L270.2,213.3 L268,217.5Z" fill="#111"/>
<ellipse cx="253" cy="201.25" rx="21.5" ry="8.8" fill="#fff" stroke="#1a1a1a" stroke-width="0.9"/>
<text x="253.00" y="204.62" font-size="9.4" font-weight="bold" font-style="normal" text-anchor="middle" fill="#000" >+13.4</text>
<rect x="228.20" y="279.80" width="18.50" height="9.60" fill="#fff" />
<text x="268.00" y="227.00" font-size="9.4" font-weight="normal" font-style="normal" text-anchor="middle" fill="#3a3a3a" >18.9</text>
<text x="235.60" y="287.80" font-size="9.4" font-weight="normal" font-style="normal" text-anchor="middle" fill="#3a3a3a" >5.5</text>
<rect x="223.50" y="293.40" width="23.20" height="9.50" fill="#07786c" />
<rect x="223.50" y="302.90" width="23.20" height="6.60" fill="#ed7d31" />
<rect x="223.50" y="309.50" width="23.20" height="8.80" fill="#ffc000" />
<rect x="257.00" y="233.70" width="23.00" height="4.40" fill="#0560b0" />
<rect x="257.00" y="238.10" width="23.00" height="13.10" fill="#07786c" />
<rect x="257.00" y="251.20" width="23.00" height="17.10" fill="#ed7d31" />
<rect x="257.00" y="268.30" width="23.00" height="50.00" fill="#ffc000" />
<rect x="273.40" y="228.50" width="20.20" height="8.60" fill="#0560b0" />
<text x="283.50" y="235.45" font-size="7.4" font-weight="bold" font-style="normal" text-anchor="middle" fill="#fff" >0.9</text>
<rect x="280.00" y="242.50" width="13.60" height="8.10" fill="#07786c" />
<text x="283.50" y="249.20" font-size="7.4" font-weight="bold" font-style="normal" text-anchor="middle" fill="#fff" >3.1</text>
<rect x="280.00" y="255.80" width="13.60" height="8.10" fill="#ed7d31" />
<text x="283.30" y="262.50" font-size="7.4" font-weight="bold" font-style="normal" text-anchor="middle" fill="#4f4028" >3.8</text>
<rect x="280.00" y="287.40" width="13.60" height="10.10" fill="#ffc000" />
<text x="281.20" y="295.10" font-size="7.4" font-weight="bold" font-style="normal" text-anchor="middle" fill="#4f4028" >11.1</text>
<text x="235.00" y="300.85" font-size="7.4" font-weight="bold" font-style="normal" text-anchor="middle" fill="#fff" >2.1</text>
<text x="235.00" y="308.63" font-size="6.8" font-weight="bold" font-style="normal" text-anchor="middle" fill="#4f4028" >1.3</text>
<text x="235.00" y="316.58" font-size="7.2" font-weight="bold" font-style="normal" text-anchor="middle" fill="#4f4028" >2.1</text>
<text x="235.20" y="329.88" font-size="7.2" font-weight="bold" font-style="normal" text-anchor="middle" fill="#000" >2019</text>
<text x="267.80" y="329.88" font-size="7.2" font-weight="bold" font-style="normal" text-anchor="middle" fill="#000" >2030</text>
<text x="251.80" y="343.78" font-size="7.2" font-weight="bold" font-style="normal" text-anchor="middle" fill="#000" >Centro-Sud</text>
<line x1="42" y1="248.12" x2="42" y2="307.3" stroke="#1a1a1a" stroke-width="0.8"/>
<line x1="74.5" y1="249.02" x2="74.5" y2="256.5" stroke="#1a1a1a" stroke-width="0.8"/>
<path d="M72.3,255.3 L76.7,255.3 L74.5,259.5Z" fill="#111"/>
<ellipse cx="59.25" cy="243" rx="21.6" ry="8.5" fill="#fff" stroke="#1a1a1a" stroke-width="0.9"/>
<text x="59.25" y="246.37" font-size="9.4" font-weight="bold" font-style="normal" text-anchor="middle" fill="#000" >+7.4</text>
<text x="75.80" y="270.70" font-size="9.4" font-weight="bold" font-style="normal" text-anchor="middle" fill="#000" >9.4</text>
<text x="43.20" y="321.80" font-size="9.4" font-weight="bold" font-style="normal" text-anchor="middle" fill="#000" >2.0</text>
<rect x="32.00" y="333.20" width="22.60" height="7.60" fill="#07786c" />
<rect x="32.00" y="340.80" width="22.60" height="1.80" fill="#ed7d31" />
<rect x="32.00" y="342.60" width="22.60" height="4.40" fill="#ffc000" />
<rect x="64.20" y="277.40" width="23.20" height="10.00" fill="#0560b0" />
<rect x="64.20" y="287.40" width="23.20" height="14.10" fill="#07786c" />
<rect x="64.20" y="301.50" width="23.20" height="4.00" fill="#ed7d31" />
<rect x="64.20" y="305.50" width="23.20" height="41.50" fill="#ffc000" />
<rect x="80.30" y="272.00" width="20.50" height="7.60" fill="#0560b0" />
<text x="90.75" y="278.45" font-size="7.4" font-weight="bold" font-style="normal" text-anchor="middle" fill="#fff" >1.4</text>
<rect x="87.20" y="290.40" width="13.60" height="7.30" fill="#07786c" />
<text x="90.50" y="296.70" font-size="7.4" font-weight="bold" font-style="normal" text-anchor="middle" fill="#fff" >1.9</text>
<rect x="79.60" y="299.10" width="21.20" height="7.80" fill="#ed7d31" />
<text x="90.50" y="305.65" font-size="7.4" font-weight="bold" font-style="normal" text-anchor="middle" fill="#4f4028" >0.5</text>
<rect x="87.20" y="320.90" width="13.60" height="7.20" fill="#ffc000" />
<text x="90.50" y="327.15" font-size="7.4" font-weight="bold" font-style="normal" text-anchor="middle" fill="#4f4028" >5.6</text>
<rect x="48.80" y="324.50" width="16.30" height="10.00" fill="#07786c" />
<text x="56.45" y="332.15" font-size="7.4" font-weight="bold" font-style="normal" text-anchor="middle" fill="#fff" >1.1</text>
<rect x="51.90" y="334.50" width="15.40" height="8.10" fill="#f0923a" />
<text x="60.00" y="341.20" font-size="7.4" font-weight="bold" font-style="normal" text-anchor="middle" fill="#4f4028" >0.3</text>
<text x="43.40" y="347.51" font-size="7" font-weight="bold" font-style="normal" text-anchor="middle" fill="#4f4028" >0.6</text>
<text x="43.25" y="359.33" font-size="7.2" font-weight="bold" font-style="normal" text-anchor="middle" fill="#000" >2019</text>
<text x="76.25" y="359.33" font-size="7.2" font-weight="bold" font-style="normal" text-anchor="middle" fill="#000" >2030</text>
<text x="60.00" y="373.08" font-size="7.2" font-weight="bold" font-style="normal" text-anchor="middle" fill="#000" >Sardegna</text>
<line x1="148.8" y1="278.62" x2="148.8" y2="338.5" stroke="#1a1a1a" stroke-width="0.8"/>
<line x1="179.5" y1="280.41" x2="179.5" y2="287" stroke="#1a1a1a" stroke-width="0.8"/>
<path d="M177.3,285.8 L181.7,285.8 L179.5,290Z" fill="#111"/>
<ellipse cx="166.25" cy="273.75" rx="21.3" ry="8.5" fill="#fff" stroke="#1a1a1a" stroke-width="0.9"/>
<text x="166.25" y="277.12" font-size="9.4" font-weight="bold" font-style="normal" text-anchor="middle" fill="#000" >+10.1</text>
<text x="179.25" y="300.00" font-size="9.4" font-weight="bold" font-style="normal" text-anchor="middle" fill="#000" >13.5</text>
<text x="146.20" y="353.90" font-size="9.4" font-weight="bold" font-style="normal" text-anchor="middle" fill="#000" >3.4</text>
<rect x="134.40" y="362.00" width="23.20" height="10.90" fill="#07786c" />
<rect x="134.40" y="372.90" width="23.20" height="3.10" fill="#ed7d31" />
<rect x="134.40" y="376.00" width="23.20" height="4.00" fill="#ffc000" />
<rect x="167.00" y="306.20" width="22.90" height="7.50" fill="#0560b0" />
<rect x="167.00" y="313.70" width="22.90" height="15.70" fill="#07786c" />
<rect x="167.00" y="329.40" width="22.90" height="7.60" fill="#ed7d31" />
<rect x="167.00" y="337.00" width="22.90" height="43.00" fill="#ffc000" />
<rect x="184.40" y="301.00" width="20.30" height="8.50" fill="#0560b0" />
<text x="194.35" y="307.90" font-size="7.4" font-weight="bold" font-style="normal" text-anchor="middle" fill="#fff" >1.4</text>
<rect x="189.90" y="320.00" width="14.80" height="8.50" fill="#07786c" />
<text x="193.50" y="326.90" font-size="7.4" font-weight="bold" font-style="normal" text-anchor="middle" fill="#fff" >3.0</text>
<rect x="183.00" y="328.90" width="21.70" height="8.10" fill="#ed7d31" />
<text x="193.55" y="335.60" font-size="7.4" font-weight="bold" font-style="normal" text-anchor="middle" fill="#4f4028" >1.2</text>
<rect x="189.90" y="352.00" width="14.80" height="8.80" fill="#ffc000" />
<text x="193.50" y="359.05" font-size="7.4" font-weight="bold" font-style="normal" text-anchor="middle" fill="#4f4028" >7.9</text>
<rect x="145.30" y="357.10" width="15.00" height="8.60" fill="#07786c" />
<text x="152.80" y="364.05" font-size="7.4" font-weight="bold" font-style="normal" text-anchor="middle" fill="#fff" >1.9</text>
<rect x="150.40" y="365.70" width="15.40" height="9.00" fill="#f0923a" />
<text x="158.10" y="372.85" font-size="7.4" font-weight="bold" font-style="normal" text-anchor="middle" fill="#4f4028" >0.6</text>
<text x="146.40" y="380.71" font-size="7" font-weight="bold" font-style="normal" text-anchor="middle" fill="#4f4028" >0.9</text>
<text x="146.25" y="392.58" font-size="7.2" font-weight="bold" font-style="normal" text-anchor="middle" fill="#000" >2019</text>
<text x="178.75" y="392.58" font-size="7.2" font-weight="bold" font-style="normal" text-anchor="middle" fill="#000" >2030</text>
<text x="162.75" y="405.78" font-size="7.2" font-weight="bold" font-style="normal" text-anchor="middle" fill="#000" >Sicilia</text>
<line x1="336.4" y1="335.46" x2="336.4" y2="359.4" stroke="#1a1a1a" stroke-width="0.8"/>
<line x1="368.6" y1="335.55" x2="368.6" y2="343.5" stroke="#1a1a1a" stroke-width="0.8"/>
<path d="M366.40000000000003,342.3 L370.8,342.3 L368.6,346.5Z" fill="#111"/>
<ellipse cx="352.6" cy="330.1" rx="21.4" ry="8.2" fill="#fff" stroke="#1a1a1a" stroke-width="0.9"/>
<text x="352.60" y="333.47" font-size="9.4" font-weight="bold" font-style="normal" text-anchor="middle" fill="#000" >+1.6</text>
<text x="368.60" y="355.20" font-size="9.4" font-weight="bold" font-style="normal" text-anchor="middle" fill="#000" >3.4</text>
<text x="336.00" y="368.20" font-size="9.4" font-weight="bold" font-style="normal" text-anchor="middle" fill="#000" >1.8</text>
<rect x="323.80" y="378.30" width="23.10" height="11.80" fill="#07786c" />
<rect x="323.80" y="390.10" width="23.10" height="2.00" fill="#ed7d31" />
<rect x="323.80" y="392.10" width="23.10" height="3.20" fill="#ffc000" />
<rect x="356.90" y="360.40" width="23.40" height="18.20" fill="#07786c" />
<rect x="356.90" y="378.60" width="23.40" height="5.20" fill="#ed7d31" />
<rect x="356.90" y="383.80" width="23.40" height="11.50" fill="#ffc000" />
<rect x="378.50" y="368.50" width="15.60" height="5.40" fill="#07786c" />
<text x="383.10" y="373.85" font-size="7.4" font-weight="bold" font-style="normal" text-anchor="middle" fill="#fff" >1.8</text>
<rect x="371.70" y="378.10" width="22.40" height="5.70" fill="#ed7d31" />
<text x="382.90" y="383.60" font-size="7.4" font-weight="bold" font-style="normal" text-anchor="middle" fill="#4f4028" >0.5</text>
<rect x="380.30" y="385.40" width="13.80" height="5.20" fill="#ffc000" />
<text x="383.20" y="390.65" font-size="7.4" font-weight="bold" font-style="normal" text-anchor="middle" fill="#4f4028" >1.1</text>
<text x="335.80" y="387.09" font-size="7.8" font-weight="bold" font-style="normal" text-anchor="middle" fill="#fff" >1.2</text>
<rect x="344.10" y="385.40" width="16.20" height="6.20" fill="#ed7d31" />
<text x="352.20" y="391.08" font-size="7.2" font-weight="bold" font-style="normal" text-anchor="middle" fill="#4f4028" >0.3</text>
<text x="335.80" y="395.93" font-size="6.8" font-weight="bold" font-style="normal" text-anchor="middle" fill="#4f4028" >0.3</text>
<text x="335.70" y="407.58" font-size="7.2" font-weight="bold" font-style="normal" text-anchor="middle" fill="#000" >2019</text>
<text x="368.60" y="407.58" font-size="7.2" font-weight="bold" font-style="normal" text-anchor="middle" fill="#000" >2030</text>
<text x="352.30" y="420.88" font-size="7.2" font-weight="bold" font-style="normal" text-anchor="middle" fill="#000" >Calabria</text>
<path d="M337.00,36.40 A38.2,38.2 0 1 1 331.70,112.43 L333.25,101.34 A27,27 0 1 0 337.00,47.60Z" fill="#ffc000" stroke="#fff" stroke-width="1.2"/>
<path d="M331.70,112.43 A38.2,38.2 0 0 1 298.99,78.44 L310.14,77.31 A27,27 0 0 0 333.25,101.34Z" fill="#ed7d31" stroke="#fff" stroke-width="1.2"/>
<path d="M298.99,78.44 A38.2,38.2 0 0 1 317.81,41.57 L323.44,51.25 A27,27 0 0 0 310.14,77.31Z" fill="#07786c" stroke="#fff" stroke-width="1.2"/>
<path d="M317.81,41.57 A38.2,38.2 0 0 1 337.00,36.40 L337.00,47.60 A27,27 0 0 0 323.44,51.25Z" fill="#0560b0" stroke="#fff" stroke-width="1.2"/>
<rect x="362.50" y="72.50" width="17.50" height="8.75" fill="#ffc000" />
<text x="371.25" y="79.31" font-size="6.8" font-weight="bold" font-style="normal" text-anchor="middle" fill="#fff" >53.0</text>
<rect x="303.75" y="94.25" width="18.75" height="9.50" fill="#ed7d31" />
<text x="313.12" y="101.43" font-size="6.8" font-weight="bold" font-style="normal" text-anchor="middle" fill="#fff" >21.5</text>
<rect x="298.00" y="53.75" width="18.25" height="10.75" fill="#07786c" />
<text x="307.12" y="61.56" font-size="6.8" font-weight="bold" font-style="normal" text-anchor="middle" fill="#fff" >18.5</text>
<rect x="321.25" y="36.25" width="15.50" height="10.75" fill="#0560b0" />
<text x="329.00" y="44.06" font-size="6.8" font-weight="bold" font-style="normal" text-anchor="middle" fill="#fff" >8.5</text>
<text x="336.50" y="71.97" font-size="9" font-weight="bold" font-style="normal" text-anchor="middle" fill="#000" >101.5</text>
<text x="337.50" y="82.72" font-size="9" font-weight="bold" font-style="normal" text-anchor="middle" fill="#000" >al 2030</text>
<rect x="26.25" y="438.90" width="7.40" height="7.40" fill="#0a6ec7" />
<rect x="109.25" y="438.90" width="7.40" height="7.40" fill="#07786c" />
<rect x="195.00" y="438.90" width="7.40" height="7.40" fill="#ed7d31" />
<rect x="294.90" y="438.90" width="7.40" height="7.40" fill="#ffc000" />
<text x="41.25" y="445.60" font-size="7.8" font-weight="normal" font-style="italic" text-anchor="start" fill="#222" textLength="55.5" lengthAdjust="spacingAndGlyphs">Eolico offshore</text>
<text x="124.50" y="445.60" font-size="7.8" font-weight="normal" font-style="italic" text-anchor="start" fill="#222" textLength="54.2" lengthAdjust="spacingAndGlyphs">Eolico onshore</text>
<text x="210.10" y="445.60" font-size="7.8" font-weight="normal" font-style="italic" text-anchor="start" fill="#222" textLength="66.5" lengthAdjust="spacingAndGlyphs">Solare small scale</text>
<text x="310.00" y="445.60" font-size="7.8" font-weight="normal" font-style="italic" text-anchor="start" fill="#222" textLength="68" lengthAdjust="spacingAndGlyphs">Solare utility scale</text>
<text x="437.50" y="25.00" font-size="12.2" font-weight="bold" font-style="italic" text-anchor="start" fill="#111" textLength="135" lengthAdjust="spacingAndGlyphs">Mappa accumuli (GWh)</text>
<text x="475.50" y="84.50" font-size="9.4" font-weight="bold" font-style="normal" text-anchor="middle" fill="#000" >12.2</text>
<rect x="458.00" y="92.00" width="33.25" height="26.00" fill="#8497b0" />
<rect x="458.00" y="118.00" width="33.25" height="74.00" fill="#aeaaaa" />
<rect x="491.25" y="99.25" width="12.50" height="9.50" fill="#8497b0" />
<text x="497.50" y="106.65" font-size="7.4" font-weight="bold" font-style="normal" text-anchor="middle" fill="#fff" >3.2</text>
<rect x="491.25" y="148.75" width="13.75" height="8.75" fill="#aeaaaa" />
<text x="498.12" y="155.77" font-size="7.4" font-weight="bold" font-style="normal" text-anchor="middle" fill="#fff" >9.0</text>
<text x="475.00" y="204.33" font-size="7.2" font-weight="bold" font-style="normal" text-anchor="middle" fill="#000" >2030</text>
<text x="475.00" y="218.83" font-size="7.2" font-weight="bold" font-style="normal" text-anchor="middle" fill="#000" >Nord</text>
<text x="650.30" y="100.70" font-size="9.5" font-weight="normal" font-style="normal" text-anchor="middle" fill="#3a3a3a" >1.5</text>
<rect x="631.20" y="102.50" width="37.20" height="20.20" fill="#8497b0" />
<rect x="631.20" y="122.70" width="37.20" height="17.10" fill="#aeaaaa" />
<text x="661.00" y="117.71" font-size="7" font-weight="bold" font-style="normal" text-anchor="middle" fill="#fff" >0.1</text>
<rect x="668.40" y="111.50" width="1.60" height="7.50" fill="#8497b0" />
<rect x="666.40" y="127.70" width="13.10" height="4.60" fill="#aeaaaa" />
<text x="671.95" y="132.65" font-size="7.4" font-weight="bold" font-style="normal" text-anchor="middle" fill="#fff" >1.4</text>
<text x="650.00" y="152.38" font-size="7.2" font-weight="bold" font-style="normal" text-anchor="middle" fill="#000" >2030</text>
<text x="650.00" y="165.68" font-size="7.2" font-weight="bold" font-style="normal" text-anchor="middle" fill="#000" >Centro-Nord</text>
<rect x="644.90" y="216.50" width="26.10" height="11.30" fill="#fff" />
<text x="657.40" y="225.80" font-size="9.5" font-weight="normal" font-style="normal" text-anchor="middle" fill="#3a3a3a" >8.8</text>
<rect x="640.75" y="233.75" width="33.50" height="40.75" fill="#7f7f7f" />
<rect x="640.75" y="274.50" width="33.50" height="7.50" fill="#8497b0" />
<rect x="640.75" y="282.00" width="33.50" height="31.25" fill="#aeaaaa" />
<rect x="674.25" y="251.25" width="12.50" height="8.75" fill="#7f7f7f" />
<text x="680.50" y="258.27" font-size="7.4" font-weight="bold" font-style="normal" text-anchor="middle" fill="#fff" >4.4</text>
<rect x="674.25" y="273.00" width="12.50" height="8.75" fill="#8497b0" />
<text x="680.50" y="280.02" font-size="7.4" font-weight="bold" font-style="normal" text-anchor="middle" fill="#fff" >1.0</text>
<rect x="674.25" y="292.50" width="15.75" height="10.00" fill="#aeaaaa" />
<text x="682.12" y="300.15" font-size="7.4" font-weight="bold" font-style="normal" text-anchor="middle" fill="#fff" >3.4</text>
<text x="657.50" y="325.58" font-size="7.2" font-weight="bold" font-style="normal" text-anchor="middle" fill="#000" >2030</text>
<text x="657.50" y="339.88" font-size="7.2" font-weight="bold" font-style="normal" text-anchor="middle" fill="#000" >Centro-Sud</text>
<text x="757.50" y="162.50" font-size="9.4" font-weight="bold" font-style="normal" text-anchor="middle" fill="#000" >34.4</text>
<rect x="740.75" y="170.50" width="33.50" height="102.00" fill="#7f7f7f" />
<rect x="740.75" y="272.50" width="33.50" height="2.50" fill="#aeaaaa" />
<rect x="774.25" y="218.75" width="15.75" height="9.25" fill="#7f7f7f" />
<text x="782.12" y="226.02" font-size="7.4" font-weight="bold" font-style="normal" text-anchor="middle" fill="#fff" >33.5</text>
<rect x="772.30" y="257.50" width="17.20" height="11.10" fill="#8497b0" />
<text x="781.90" y="265.70" font-size="7.4" font-weight="bold" font-style="normal" text-anchor="middle" fill="#fff" >0.1</text>
<rect x="772.30" y="269.00" width="16.60" height="8.60" fill="#aeaaaa" />
<text x="781.10" y="275.95" font-size="7.4" font-weight="bold" font-style="normal" text-anchor="middle" fill="#fff" >0.8</text>
<rect x="748.90" y="280.10" width="17.30" height="7.80" fill="#fff" />
<rect x="750.70" y="294.20" width="14.50" height="7.50" fill="#fff" />
<text x="757.50" y="286.33" font-size="7.2" font-weight="bold" font-style="normal" text-anchor="middle" fill="#000" >2030</text>
<text x="757.50" y="300.08" font-size="7.2" font-weight="bold" font-style="normal" text-anchor="middle" fill="#000" >Sud</text>
<text x="461.25" y="268.75" font-size="9.4" font-weight="bold" font-style="normal" text-anchor="middle" fill="#000" >10.7</text>
<rect x="444.50" y="274.50" width="33.50" height="44.75" fill="#7f7f7f" />
<rect x="444.50" y="319.25" width="33.50" height="22.50" fill="#8497b0" />
<rect x="444.50" y="341.75" width="33.50" height="1.25" fill="#aeaaaa" />
<rect x="466.25" y="292.50" width="15.00" height="8.25" fill="#7f7f7f" />
<text x="472.35" y="299.27" font-size="7.4" font-weight="bold" font-style="normal" text-anchor="middle" fill="#fff" >6.9</text>
<rect x="475.00" y="325.75" width="15.00" height="8.00" fill="#8497b0" />
<text x="482.50" y="332.40" font-size="7.4" font-weight="bold" font-style="normal" text-anchor="middle" fill="#fff" >3.5</text>
<rect x="473.25" y="336.25" width="16.75" height="8.00" fill="#aeaaaa" />
<text x="481.62" y="342.90" font-size="7.4" font-weight="bold" font-style="normal" text-anchor="middle" fill="#fff" >0.3</text>
<text x="461.25" y="354.58" font-size="7.2" font-weight="bold" font-style="normal" text-anchor="middle" fill="#000" >2030</text>
<text x="461.25" y="368.83" font-size="7.2" font-weight="bold" font-style="normal" text-anchor="middle" fill="#000" >Sardegna</text>
<text x="569.50" y="293.25" font-size="9.4" font-weight="bold" font-style="normal" text-anchor="middle" fill="#000" >21.2</text>
<rect x="550.00" y="300.00" width="33.25" height="72.80" fill="#7f7f7f" />
<rect x="550.00" y="372.80" width="33.25" height="3.70" fill="#aeaaaa" />
<rect x="583.25" y="335.00" width="16.25" height="9.50" fill="#7f7f7f" />
<text x="591.38" y="342.40" font-size="7.4" font-weight="bold" font-style="normal" text-anchor="middle" fill="#fff" >20.4</text>
<rect x="578.75" y="368.75" width="16.75" height="8.75" fill="#aeaaaa" />
<text x="587.12" y="375.77" font-size="7.4" font-weight="bold" font-style="normal" text-anchor="middle" fill="#fff" >0.8</text>
<text x="566.25" y="388.83" font-size="7.2" font-weight="bold" font-style="normal" text-anchor="middle" fill="#000" >2030</text>
<text x="566.25" y="402.58" font-size="7.2" font-weight="bold" font-style="normal" text-anchor="middle" fill="#000" >Sicilia</text>
<text x="760.00" y="356.25" font-size="9.4" font-weight="bold" font-style="normal" text-anchor="middle" fill="#000" >5.9</text>
<rect x="743.25" y="361.75" width="32.50" height="30.00" fill="#7f7f7f" />
<rect x="774.90" y="375.10" width="13.70" height="4.30" fill="#aeaaaa" />
<text x="781.75" y="379.90" font-size="7.4" font-weight="bold" font-style="normal" text-anchor="middle" fill="#fff" >5.6</text>
<rect x="772.80" y="387.10" width="16.30" height="4.80" fill="#aeaaaa" />
<text x="780.95" y="392.15" font-size="7.4" font-weight="bold" font-style="normal" text-anchor="middle" fill="#fff" >0.3</text>
<text x="760.00" y="403.83" font-size="7.2" font-weight="bold" font-style="normal" text-anchor="middle" fill="#000" >2030</text>
<text x="760.00" y="417.58" font-size="7.2" font-weight="bold" font-style="normal" text-anchor="middle" fill="#000" >Calabria</text>
<path d="M754.75,20.10 A41.5,41.5 0 0 1 790.98,41.37 L782.95,45.85 A32.3,32.3 0 0 0 754.75,29.30Z" fill="#aeaaaa" stroke="#fff" stroke-width="1.2"/>
<path d="M790.98,41.37 A41.5,41.5 0 0 1 796.25,62.22 L787.05,62.08 A32.3,32.3 0 0 0 782.95,45.85Z" fill="#8497b0" stroke="#fff" stroke-width="1.2"/>
<path d="M796.25,62.22 A41.5,41.5 0 1 1 754.75,20.10 L754.75,29.30 A32.3,32.3 0 1 0 787.05,62.08Z" fill="#7f7f7f" stroke="#fff" stroke-width="1.2"/>
<rect x="765.00" y="25.00" width="17.50" height="8.75" fill="#aeaaaa" />
<text x="773.75" y="31.81" font-size="6.8" font-weight="bold" font-style="normal" text-anchor="middle" fill="#fff" >16.0</text>
<rect x="783.25" y="47.50" width="14.25" height="11.25" fill="#8497b0" />
<text x="790.38" y="55.56" font-size="6.8" font-weight="bold" font-style="normal" text-anchor="middle" fill="#fff" >7.9</text>
<rect x="719.50" y="83.75" width="17.50" height="9.25" fill="#7f7f7f" />
<text x="728.25" y="90.81" font-size="6.8" font-weight="bold" font-style="normal" text-anchor="middle" fill="#fff" >70.8</text>
<text x="754.50" y="61.97" font-size="9" font-weight="bold" font-style="normal" text-anchor="middle" fill="#000" >94.7</text>
<text x="755.00" y="72.72" font-size="9" font-weight="bold" font-style="normal" text-anchor="middle" fill="#000" >al 2030</text>
<rect x="435.00" y="439.25" width="7.00" height="7.50" fill="#aeaaaa" />
<rect x="535.50" y="438.25" width="7.00" height="7.50" fill="#8497b0" />
<rect x="656.25" y="438.00" width="7.00" height="7.50" fill="#7f7f7f" />
<text x="450.00" y="445.20" font-size="7.8" font-weight="normal" font-style="italic" text-anchor="start" fill="#222" textLength="78.75" lengthAdjust="spacingAndGlyphs">Accumuli small scale</text>
<text x="549.50" y="444.60" font-size="7.8" font-weight="normal" font-style="italic" text-anchor="start" fill="#222" textLength="101.25" lengthAdjust="spacingAndGlyphs">Accumuli Capacity Market</text>
<text x="671.25" y="443.80" font-size="7.8" font-weight="normal" font-style="italic" text-anchor="start" fill="#222" textLength="80.5" lengthAdjust="spacingAndGlyphs">Accumuli utility scale</text>
<rect x="15.75" y="6.6" width="389.3" height="446.3" fill="none" stroke="#151515" stroke-width="1.6"/>
<rect x="425.2" y="6.6" width="385.55" height="446.3" fill="none" stroke="#151515" stroke-width="1.6"/>
<text x="14" y="480.8" font-size="14.9" font-style="italic" fill="#00a651" textLength="772.7" lengthAdjust="spacingAndGlyphs">Figura 18 – Dettaglio evoluzione capacità FER (GW) e capacità totale accumuli (GWh) al 2030 nello scenario FF55<tspan font-size="9.6" dy="-5">34</tspan></text>
</svg></body></html>
